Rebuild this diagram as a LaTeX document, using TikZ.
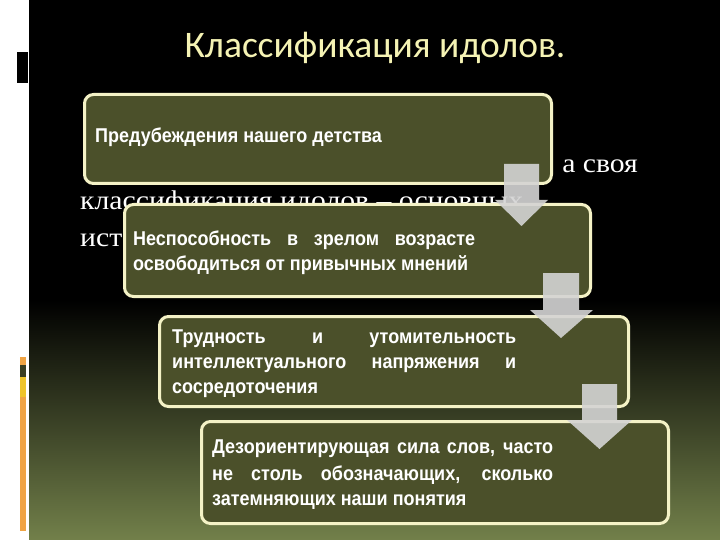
\documentclass[tikz,border=0pt]{standalone}
\usepackage{fontspec}
\setmainfont{Liberation Serif}
\newfontfamily\titlefont{Carlito}
\newfontfamily\boxfont[FakeStretch=0.9]{Liberation Sans}
\newfontfamily\bgfont[FakeStretch=1.1]{Liberation Serif}
\definecolor{boxfill}{HTML}{4B502A}
\definecolor{boxline}{HTML}{F4F2C6}
\definecolor{arrowgray}{HTML}{D4D4D4}
\definecolor{titlecol}{HTML}{F5F3B4}
\definecolor{bggreen}{HTML}{72804A}
\definecolor{barorange}{HTML}{F0A444}
\definecolor{baryellow}{HTML}{EEC42A}
\definecolor{bardark}{HTML}{3A3E22}
\tikzset{
  stagebox/.style={draw=boxline, line width=3pt, fill=boxfill, rounded corners=9pt, inner sep=0pt},
  boxtext/.style={anchor=base west, inner sep=0pt, text=white, font=\boxfont\bfseries\fontsize{20}{24}\selectfont},
  bgtext/.style={anchor=base west, inner sep=0pt, text=white, font=\bgfont\fontsize{27}{32}\selectfont},
  flowarrow/.style={fill=arrowgray, fill opacity=0.9, draw=none}
}
\begin{document}
\begin{tikzpicture}[x=1pt, y=-1pt]
\useasboundingbox (0,0) rectangle (720,540);
% background
\fill[white] (0,0) rectangle (720,540);
\fill[black] (29,0) rectangle (720,300);
\shade[top color=black, bottom color=bggreen] (29,300) rectangle (720,540);
% left decorations
\fill[black] (17,52) rectangle (28,83);
\fill[barorange] (20,357) rectangle (26,531);
\fill[bardark] (20,365) rectangle (26,377);
\fill[baryellow] (20,377) rectangle (26,397);
% title
\node[anchor=base, inner sep=0pt, text=titlecol, font=\titlefont\fontsize{37.5}{42}\selectfont] (title) at (375,58) {Классификация идолов.};
% background text (partly hidden)
\node[bgtext, anchor=base east] (bg1) at (638,173) {а своя};
\node[bgtext] (bg2) at (80,210) {классификация идолов – основных};
\node[bgtext] (bg3) at (80,246) {ист};
% boxes
\node[stagebox, minimum width=467pt, minimum height=89pt] (b1) at (318,139) {};
\node[boxtext] (t1) at (95,143) {Предубеждения нашего детства};
\node[stagebox, minimum width=466pt, minimum height=92pt] (b2) at (357.5,250.5) {};
\node[boxtext] (t2a) at (133,245) {\makebox[342pt][s]{Неспособность в зрелом возрасте}};
\node[boxtext] (t2b) at (133,270) {освободиться от привычных мнений};
\node[stagebox, minimum width=469pt, minimum height=90pt] (b3) at (394,361.5) {};
\node[boxtext] (t3a) at (172,343) {\makebox[344pt][s]{Трудность и утомительность}};
\node[boxtext] (t3b) at (172,368) {\makebox[344pt][s]{интеллектуального напряжения и}};
\node[boxtext] (t3c) at (172,393) {сосредоточения};
\node[stagebox, minimum width=467pt, minimum height=102pt] (b4) at (435,472.5) {};
\node[boxtext] (t4a) at (212,453) {\makebox[341pt][s]{Дезориентирующая сила слов, часто}};
\node[boxtext] (t4b) at (212,480) {\makebox[341pt][s]{не столь обозначающих, сколько}};
\node[boxtext] (t4c) at (212,505) {затемняющих наши понятия};
% arrows
\fill[flowarrow] (504,164) -- (539,164) -- (539,200) -- (548,200) -- (521.5,226) -- (495,200) -- (504,200) -- cycle;
\fill[flowarrow] (543,273) -- (579,273) -- (579,310) -- (593,310) -- (561,338) -- (530,310) -- (543,310) -- cycle;
\fill[flowarrow] (582,384) -- (617,384) -- (617,420) -- (632,420) -- (599.5,449) -- (567,420) -- (582,420) -- cycle;
\end{tikzpicture}
\end{document}
